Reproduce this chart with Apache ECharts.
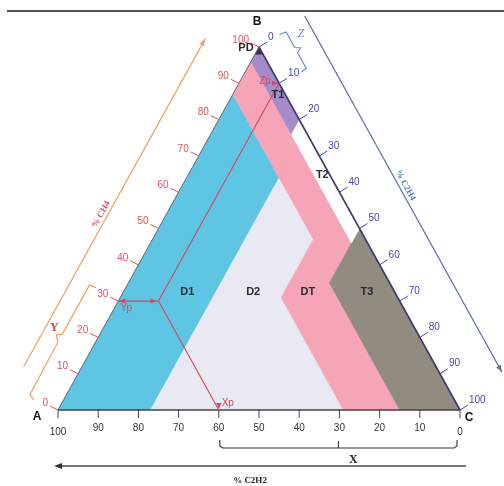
<!DOCTYPE html>
<html>
<head>
<meta charset="utf-8">
<script src="https://cdn.jsdelivr.net/npm/echarts@6/dist/echarts.min.js"></script>
<style>
  html, body { margin: 0; padding: 0; background: #ffffff; }
  #chart { width: 504px; height: 486px; }
</style>
</head>
<body>
<div id="chart"></div>
<script>
// Duval triangle. Every vertex is written as [%C2H2, %CH4]; %C2H4 is the remainder.
const zoneNames = ['D1', 'D2', 'DT', 'T3', 'T2', 'T1', 'PD'];
const zoneD1 = [[13, 87], [100, 0], [77, 0], [13, 64]];
const zoneD2 = [[13, 64], [77, 0], [29, 0], [29, 31], [13, 47]];
const zoneDT = [[4, 96], [13, 87], [13, 64], [13, 47], [29, 31], [29, 0], [15, 0], [15, 35], [4, 46], [4, 76]];
const zoneT3 = [[0, 50], [0, 0], [15, 0], [15, 35]];
const zoneT2 = [[0, 80], [0, 50], [4, 46], [4, 76]];
const zoneT1 = [[4, 96], [2, 98], [0, 98], [0, 80], [4, 76]];
const zonePD = [[0, 100], [2, 98], [0, 98]];

// tick values shared by the three sides
const axisTicks = [0, 10, 20, 30, 40, 50, 60, 70, 80, 90, 100];

// worked example: a gas with %C2H2 = 60, %CH4 = 30, %C2H4 = 10
const sampleC2H2 = 60;
const sampleCH4 = 30;
const sampleC2H4 = 10;

// ---------------------------------------------------------------------------
const zonePolys = [zoneD1, zoneD2, zoneDT, zoneT3, zoneT2, zoneT1, zonePD];
const zoneFill = ['#5ec6e2', '#e8e9f3', '#f6a5b8', '#918b80', '#ffffff', '#a58bcb', '#3a2c5c'];
// where each zone name is written, in [%C2H2, %CH4]
const zoneLabelAt = {
  D1: [51.6, 32.5], D2: [35.2, 32.5], DT: [21.6, 32.5], T3: [6.9, 32.5],
  T2: [1.9, 64.7], T1: [1.9, 86.8]
};

// ternary -> plane: C2H2 corner bottom-left, C2H4 corner bottom-right, CH4 on top
function toXY(a, b) { return [100 - a - b / 2, b]; }

const RED = '#e0505c';
const BLUE = '#4747a6';
const ORANGE = '#e8a262';
const CONSTR = '#d5465c';

function renderZone(params, api) {
  const poly = zonePolys[params.dataIndex];
  const pts = poly.map(p => api.coord(toXY(p[0], p[1])));
  return {
    type: 'polygon',
    shape: { points: pts },
    style: { fill: zoneFill[params.dataIndex], stroke: zoneFill[params.dataIndex], lineWidth: 0.5 }
  };
}

function txt(x, y, text, fill, font, align, valign, rotation) {
  return {
    type: 'text', x: x, y: y, rotation: rotation || 0,
    style: {
      text: text, fill: fill, font: font,
      align: align || 'center', verticalAlign: valign || 'middle',
      textAlign: align || 'center', textVerticalAlign: valign || 'middle'
    }
  };
}
function seg(p, q, stroke, w, dash) {
  return {
    type: 'line',
    shape: { x1: p[0], y1: p[1], x2: q[0], y2: q[1] },
    style: { stroke: stroke, lineWidth: w || 1, lineDash: dash || null }
  };
}
function poly(points, stroke, w) {
  return { type: 'polyline', shape: { points: points }, style: { stroke: stroke, lineWidth: w || 1, fill: null } };
}
function head(tip, dir, fill, len, half) {
  const l = len || 8, h = half || 3;
  const px = -dir[1], py = dir[0];
  return {
    type: 'polygon',
    shape: { points: [tip,
      [tip[0] - dir[0] * l + px * h, tip[1] - dir[1] * l + py * h],
      [tip[0] - dir[0] * l - px * h, tip[1] - dir[1] * l - py * h]] },
    style: { fill: fill }
  };
}

function renderOverlay(params, api) {
  const P = (a, b) => api.coord(toXY(a, b));
  const A = P(100, 0), B = P(0, 100), C = P(0, 0);
  const kids = [];

  // edge frames: unit direction along the side and outward normal
  function frame(s, e) {
    const dx = e[0] - s[0], dy = e[1] - s[1], len = Math.hypot(dx, dy);
    const u = [dx / len, dy / len];
    const n = [u[1], -u[0]];
    return { s: s, u: u, n: n, len: len,
      at: (along, off) => [s[0] + u[0] * along + n[0] * off, s[1] + u[1] * along + n[1] * off] };
  }
  const left = frame(A, B);
  const right = frame(B, C);

  // sides of the triangle
  kids.push(seg(A, B, '#6a6a7a', 1));
  kids.push(seg(B, C, '#3c3c6c', 1.6));
  kids.push(seg(A, C, '#444444', 1.3));

  // bottom axis: %C2H2 from 100 at A to 0 at C
  axisTicks.forEach(v => {
    const p = P(v, 0);
    kids.push(seg([p[0], p[1] - 1], [p[0], p[1] + 8], '#444444', 1));
    const dy = (v === 0 || v === 100) ? 22 : 18;
    kids.push(txt(p[0], p[1] + dy, String(v), '#333333', '10px "Liberation Sans", Arial, sans-serif'));
  });

  // left axis: %CH4 from 0 at A to 100 at B
  axisTicks.forEach(v => {
    const p = P(100 - v, v);
    kids.push(seg(p, [p[0] - 8, p[1] - 4], RED, 1));
    kids.push(txt(p[0] - 10, p[1] - 7, String(v), RED, '10px "Liberation Sans", Arial, sans-serif', 'right'));
  });

  // right axis: %C2H4 from 0 at B to 100 at C
  axisTicks.forEach(v => {
    const p = P(0, 100 - v);
    kids.push(seg(p, [p[0] + 8, p[1] - 5], BLUE, 1));
    kids.push(txt(p[0] + 9, p[1] - 10, String(v), BLUE, '10px "Liberation Sans", Arial, sans-serif', 'left'));
  });

  // %CH4 arrow, parallel to the left side
  const oTail = left.at(21, 51), oTip = left.at(396, 51);
  kids.push(seg(oTail, oTip, ORANGE, 1.2));
  kids.push(head(oTip, left.u, ORANGE, 7, 2.5));
  const oLab = left.at(192, 57);
  kids.push(txt(oLab[0], oLab[1], '% CH4', RED, 'bold 9px "Liberation Serif", serif', 'center', 'middle',
    Math.atan2(-left.u[1], left.u[0])));

  // Y bracket: %CH4 of the sample
  const ySpan = sampleCH4 / 100 * left.len;
  const yb0 = left.at(0, 32), yb1 = left.at(ySpan, 33);
  const yMid = left.at(ySpan / 2, 33), yNotch = left.at(ySpan / 2 + 3, 38);
  kids.push(poly([left.at(-3, 26), yb0, left.at(ySpan / 2 - 3, 33), yNotch, left.at(ySpan / 2 + 6, 33), yb1, left.at(ySpan + 1, 26)], ORANGE, 1.2));
  const yLab = left.at(ySpan / 2 + 8, 43);
  kids.push(txt(yLab[0], yLab[1], 'Y', '#c45050', 'bold 12px "Liberation Serif", serif'));

  // %C2H4 arrow, parallel to the right side
  const bTail = right.at(-5, 55), bTip = right.at(402, 55);
  kids.push(seg(bTail, bTip, '#5a6aa6', 1.2));
  kids.push(head(bTip, right.u, '#5a6aa6', 7, 2.5));
  const bLab = right.at(192, 61);
  kids.push(txt(bLab[0], bLab[1], '% C2H4', '#5a7ab8', 'bold 9px "Liberation Serif", serif', 'center', 'middle',
    Math.atan2(-right.u[1], right.u[0])));

  // Z bracket: %C2H4 of the sample
  const zSpan = sampleC2H4 / 100 * right.len;
  kids.push(poly([right.at(-1, 24), right.at(0, 31), right.at(zSpan / 2 - 3, 31), right.at(zSpan / 2, 36),
    right.at(zSpan / 2 + 3, 31), right.at(zSpan, 31), right.at(zSpan + 1, 25)], '#6a8ac8', 1.2));
  const zLab = right.at(9, 43);
  kids.push(txt(zLab[0], zLab[1], 'Z', '#6a8ac8', 'italic 12px "Liberation Serif", serif'));

  // X bracket: %C2H2 of the sample
  const xL = P(sampleC2H2, 0)[0] + 1, xR = C[0] - 3, by = A[1];
  const xm = (xL + xR) / 2;
  kids.push(poly([[xL, by + 30], [xL, by + 36], [xL + 3, by + 38], [xR - 3, by + 38], [xR, by + 36], [xR, by + 30]], '#333333', 1.1));
  kids.push(seg([xm, by + 38], [xm, by + 31], '#333333', 1.1));
  kids.push(txt(xm + 15, by + 50, 'X', '#222222', 'bold 12px "Liberation Serif", serif'));

  // %C2H2 arrow below the base
  const ay = by + 56;
  kids.push(seg([C[0] + 6, ay], [A[0] + 2, ay], '#444444', 1.3));
  kids.push(head([A[0] - 4, ay], [-1, 0], '#333333', 8, 3));
  kids.push(txt((A[0] + C[0]) / 2 - 9, by + 71, '% C2H2', '#222222', 'bold 9px "Liberation Serif", serif'));

  // construction of the sample point
  const pt = P(sampleC2H2, sampleCH4);
  const yp = P(100 - sampleCH4, sampleCH4);
  const xp = P(sampleC2H2, 0);
  const zp = P(0, 100 - sampleC2H4);
  kids.push(seg(yp, pt, CONSTR, 1.1));
  kids.push(seg(pt, xp, CONSTR, 1.1));
  kids.push(seg(pt, zp, CONSTR, 1.1));
  kids.push(head([yp[0] + 1, yp[1]], [-1, 0], CONSTR, 6, 2.5));
  kids.push(head([pt[0] - 2, pt[1]], [1, 0], CONSTR, 6, 2.5));
  kids.push(head([xp[0], xp[1] - 1], [0, 1], CONSTR, 6, 2.5));
  kids.push(head([zp[0] - 1, zp[1]], [1, 0], CONSTR, 6, 2.5));
  kids.push(txt(yp[0] + 8, yp[1] + 7, 'Yp', CONSTR, '10px "Liberation Sans", Arial, sans-serif'));
  kids.push(txt(xp[0] + 9, xp[1] - 7, 'Xp', CONSTR, '10px "Liberation Sans", Arial, sans-serif'));
  kids.push(txt(zp[0] - 14, zp[1] - 2, 'Zp', CONSTR, '10px "Liberation Sans", Arial, sans-serif'));

  // zone names
  Object.keys(zoneLabelAt).forEach(k => {
    const q = P(zoneLabelAt[k][0], zoneLabelAt[k][1]);
    kids.push(txt(q[0], q[1], k, '#2a2a30', 'bold 11px "Liberation Sans", Arial, sans-serif'));
  });
  kids.push(txt(B[0] - 13, B[1] + 1, 'PD', '#2a2a30', 'bold 11px "Liberation Sans", Arial, sans-serif'));

  // corners
  kids.push(txt(A[0] - 21, A[1] + 7, 'A', '#111111', 'bold 12px "Liberation Sans", Arial, sans-serif'));
  kids.push(txt(B[0] - 2, B[1] - 25, 'B', '#111111', 'bold 12px "Liberation Sans", Arial, sans-serif'));
  kids.push(txt(C[0] + 9, C[1] + 8, 'C', '#111111', 'bold 12px "Liberation Sans", Arial, sans-serif'));

  return { type: 'group', children: kids };
}

const chart = echarts.init(document.getElementById('chart'), null, { renderer: 'canvas' });
chart.setOption({
  animation: false,
  backgroundColor: '#ffffff',
  grid: { left: 58, right: 44, top: 47, bottom: 76 },
  xAxis: { type: 'value', min: 0, max: 100, show: false },
  yAxis: { type: 'value', min: 0, max: 100, show: false },
  graphic: [{
    type: 'line', shape: { x1: 7, y1: 11, x2: 504, y2: 11 },
    style: { stroke: '#555555', lineWidth: 2 }
  }],
  series: [
    {
      type: 'custom', name: 'zones', silent: true,
      renderItem: renderZone,
      data: zoneNames.map((n, i) => [i, i])
    },
    {
      type: 'custom', name: 'axes', silent: true,
      renderItem: renderOverlay,
      data: [[0, 0]]
    }
  ]
});
</script>
</body>
</html>
